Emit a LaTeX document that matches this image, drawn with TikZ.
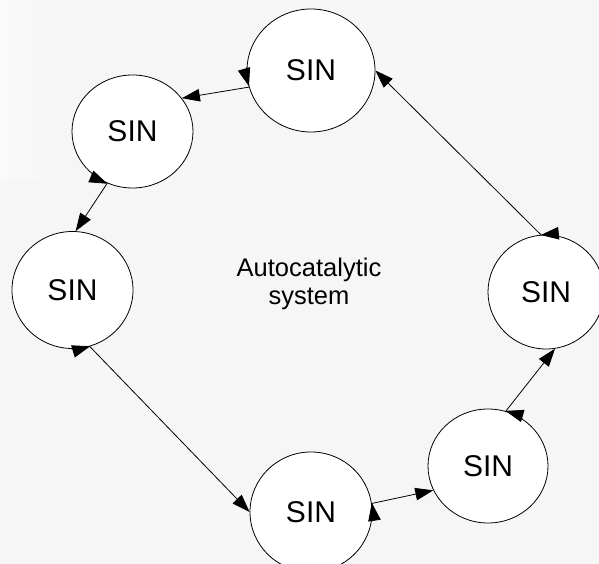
\documentclass[tikz,border=0pt]{standalone}
\usepackage{fontspec}
\setmainfont{Liberation Sans}
\usepackage{tikz}
\usetikzlibrary{shapes.geometric,arrows.meta}
\definecolor{bgpage}{HTML}{F6F6F6}
\newcommand{\bigsin}{\fontsize{30}{36}\selectfont SIN}

\begin{document}
\begin{tikzpicture}[x=1pt,y=1pt,
		sin/.style={ellipse,draw,fill=white,line width=0.8pt,inner sep=0pt},
		link/.style={line width=0.8pt,-{Triangle[length=18pt,width=12.5pt]}}]
		\useasboundingbox (0,0) rectangle (599,564);
		\fill [bgpage] (0,0) rectangle (599,564);
		\shade [left color=white!45!bgpage, right color=bgpage] (0,384) rectangle (55,564);
		\node (TT) at (311,493.5) 
			[sin, minimum width=128pt, minimum height=123pt] {\bigsin}; 
		\node (TL) at (132.5,432.5) 
			[sin, minimum width=121pt, minimum height=113pt] {\bigsin}; 
		\node (LL) at (72.5,274) 
			[sin, minimum width=121pt, minimum height=117pt] {\bigsin}; 
		\node (BB) at (311,52) 
			[sin, minimum width=122pt, minimum height=120pt] {\bigsin}; 
		\node (BR) at (488,98) 
			[sin, minimum width=120pt, minimum height=114pt] {\bigsin}; 
		\node (RR) at (546,272) 
			[sin, minimum width=116pt, minimum height=114pt] {\bigsin}; 
		\node (AS) at (309,280) 
			[align=center, font=\fontsize{25.5}{28}\selectfont] 
			{Autocatalytic\\system}; 
		% the ring of links
		\draw [link] (TT.195.5) to (TL.34.3);
		\draw [link] (TL.244.6) to (LL.87.6);
		\draw [link] (LL.287.4) to (BB.180.9);
		\draw [link] (BB.8.4) to (BR.204.4);
		\draw [link] (BR.72.8) to (RR.279);
		\draw [link] (RR.95.8) to (TT.0);
		% tails sitting on the rims
		\draw [link] (TT.177.5) 
			arc [start angle=177.5, end angle=195.5, x radius=64pt, y radius=61.5pt];
		\draw [link] (TL.226.6) 
			arc [start angle=226.6, end angle=244.6, x radius=60.5pt, y radius=56.5pt];
		\draw [link] (LL.269.4) 
			arc [start angle=269.4, end angle=287.4, x radius=60.5pt, y radius=58.5pt];
		\draw [link] (BB.-9.6) 
			arc [start angle=-9.6, end angle=8.4, x radius=61pt, y radius=60pt];
		\draw [link] (BR.54.8) 
			arc [start angle=54.8, end angle=72.8, x radius=60pt, y radius=57pt];
		\draw [link] (RR.77.8) 
			arc [start angle=77.8, end angle=95.8, x radius=58pt, y radius=57pt];
	\end{tikzpicture}
\end{document}
